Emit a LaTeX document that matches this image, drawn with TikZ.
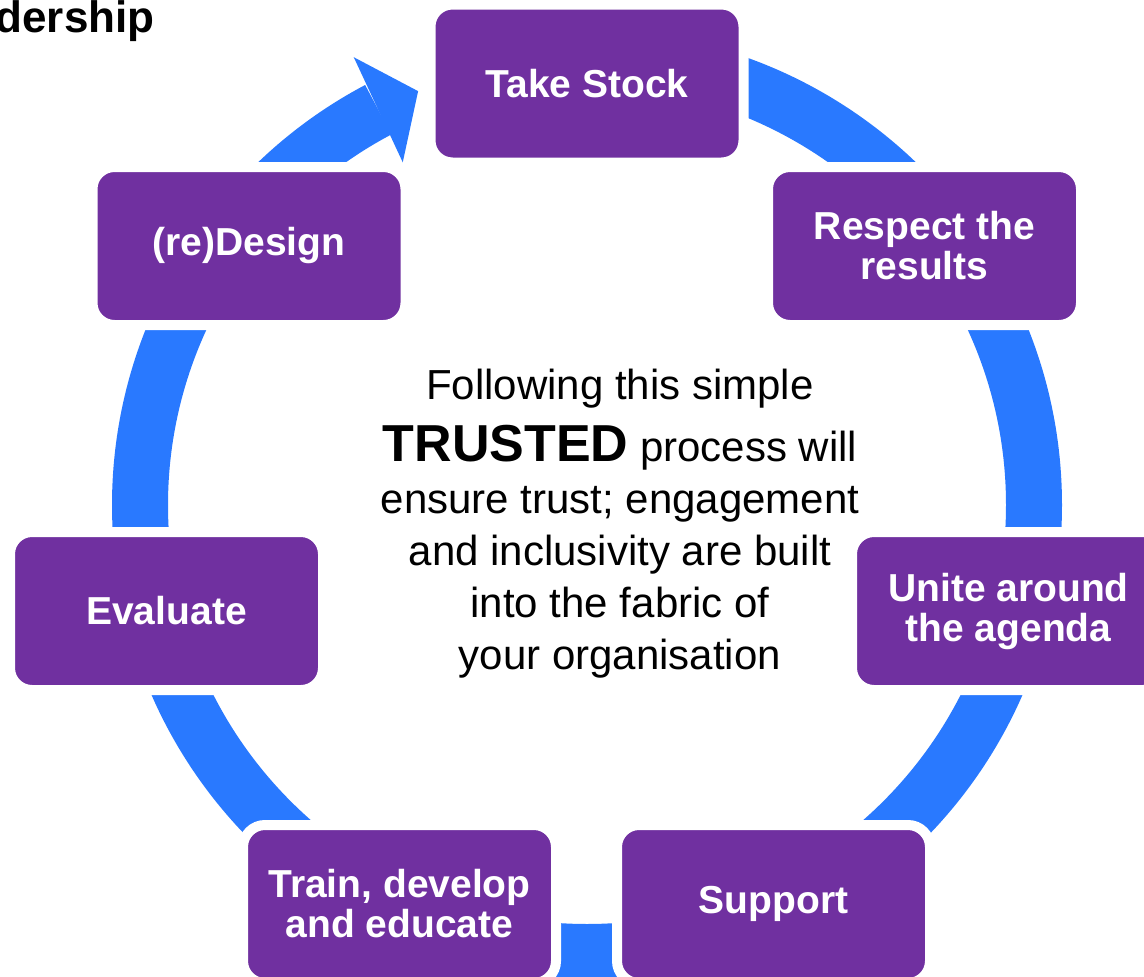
\documentclass[tikz,border=0pt]{standalone}
\usepackage{fontspec}
\setmainfont{Liberation Sans}
\usepackage{tikz}
\usetikzlibrary{arrows.meta,bending,positioning,calc}
\definecolor{stagepurple}{RGB}{112,48,160}
\definecolor{ringblue}{RGB}{41,121,255}

\begin{document}
\begin{tikzpicture}[x=1pt, y=-1pt,
        stage/.style={rectangle, rounded corners=22pt, fill=stagepurple, draw=white, line width=10pt,
            minimum width=313pt, minimum height=158pt, inner sep=0pt, align=center,
            text=white, font=\bfseries\fontsize{39}{40}\selectfont}]
        \path[use as bounding box, clip] (0,0) rectangle (1144,977);
        \def\r{447}
        \coordinate (ctr) at (587,505);

        % the cycle ring, ending in a head next to the first stage
        \draw[ringblue, line width=56pt, -{Triangle[width=116pt, length=44pt, line width=0pt]}]
            ($(ctr)+(-90:\r)$) arc[start angle=-90, end angle=247.8, radius=\r];

        \node (stock) [stage] at ($(ctr)+(0,-421.5)$) {Take Stock};
        \node (respect) [stage] at ($(ctr)+(337.5,-259)$) {Respect the\\results};
        \node (unite) [stage] at ($(ctr)+(421.5,106)$) {Unite around\\the agenda};
        \node (support) [stage] at ($(ctr)+(186.5,399)$) {Support};
        \node (train) [stage] at ($(ctr)+(-187.5,399)$) {Train, develop\\and educate};
        \node (evaluate) [stage] at ($(ctr)+(-420.5,106)$) {Evaluate};
        \node (design) [stage] at ($(ctr)+(-338,-259)$) {(re)Design};

        \node (note) [anchor=north, align=center, inner sep=0pt, font=\fontsize{42}{52}\selectfont] at (620,369)
            {Following this simple\\[10pt]{\bfseries\fontsize{52}{52}\selectfont TRUSTED} process will\\ensure trust; engagement\\and inclusivity are built\\into the fabric of\\your organisation};

        \node (heading) [anchor=base east, font=\bfseries\fontsize{44}{44}\selectfont] at (158,32) {dership};
    \end{tikzpicture}
\end{document}
